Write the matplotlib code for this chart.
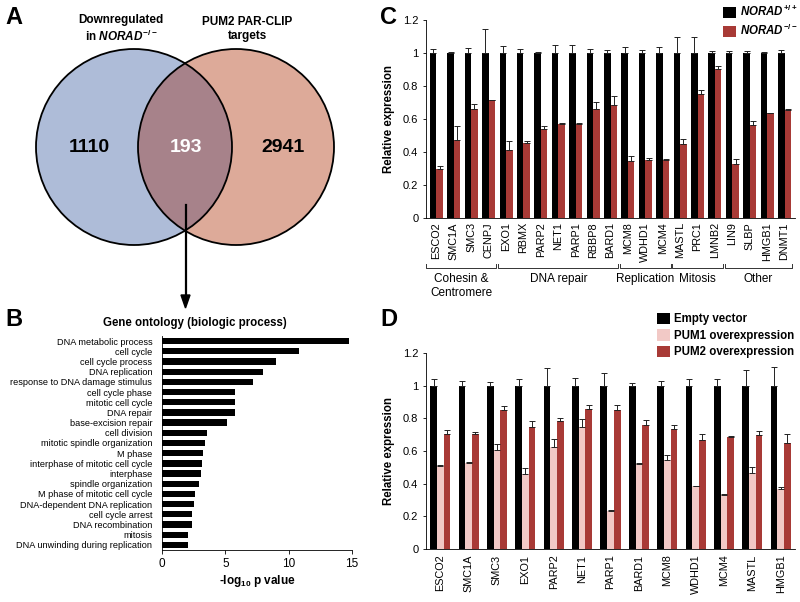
import matplotlib
matplotlib.use("Agg")
import matplotlib.pyplot as plt
import numpy as np
from matplotlib.patches import Circle, Polygon
from matplotlib.lines import Line2D
import matplotlib.transforms as mtransforms

plt.rcParams['font.family'] = ['Liberation Sans', 'DejaVu Sans']
plt.rcParams['mathtext.fontset'] = 'custom'
plt.rcParams['mathtext.rm'] = 'Liberation Sans:bold'
plt.rcParams['mathtext.bf'] = 'Liberation Sans:bold'
plt.rcParams['mathtext.it'] = 'Liberation Sans:bold:italic'

# ---------------- data ----------------
venn_left_only = 1110
venn_overlap = 193
venn_right_only = 2941
venn_left_label = "Downregulated\nin $\\mathit{NORAD}^{-/-}$"
venn_right_label = "PUM2 PAR-CLIP\ntargets"

go_terms = ["DNA metabolic process", "cell cycle", "cell cycle process", "DNA replication",
            "response to DNA damage stimulus", "cell cycle phase", "mitotic cell cycle",
            "DNA repair", "base-excision repair", "cell division", "mitotic spindle organization",
            "M phase", "interphase of mitotic cell cycle", "interphase", "spindle organization",
            "M phase of mitotic cell cycle", "DNA-dependent DNA replication", "cell cycle arrest",
            "DNA recombination", "mitosis", "DNA unwinding during replication"]
go_values = [14.8, 10.8, 9.0, 7.95, 7.15, 5.8, 5.78, 5.75, 5.1, 3.55, 3.37, 3.2, 3.15,
             3.1, 2.95, 2.63, 2.5, 2.37, 2.33, 2.07, 2.05]

genes_c = ['ESCO2', 'SMC1A', 'SMC3', 'CENPJ', 'EXO1', 'RBMX', 'PARP2', 'NET1', 'PARP1',
           'RBBP8', 'BARD1', 'MCM8', 'WDHD1', 'MCM4', 'MASTL', 'PRC1', 'LMNB2', 'LIN9',
           'SLBP', 'HMGB1', 'DNMT1']
wt_c = [1.0] * 21
wt_err_c = [0.022, 0.006, 0.03, 0.145, 0.044, 0.022, 0.006, 0.05, 0.05, 0.024, 0.02,
            0.037, 0.016, 0.039, 0.095, 0.099, 0.012, 0.012, 0.012, 0.008, 0.018]
ko_c = [0.299, 0.475, 0.663, 0.718, 0.41, 0.455, 0.542, 0.568, 0.572, 0.663, 0.682,
        0.345, 0.349, 0.353, 0.447, 0.754, 0.902, 0.325, 0.566, 0.637, 0.653]
ko_err_c = [0.014, 0.083, 0.025, 0.0, 0.057, 0.012, 0.014, 0.006, 0.003, 0.037, 0.056,
            0.033, 0.015, 0.006, 0.032, 0.021, 0.02, 0.033, 0.023, 0.002, 0.01]
groups_c = [("Cohesin &\nCentromere", 0, 3), ("DNA repair", 4, 10), ("Replication", 11, 13),
            ("Mitosis", 14, 16), ("Other", 17, 20)]

genes_d = ['ESCO2', 'SMC1A', 'SMC3', 'EXO1', 'PARP2', 'NET1', 'PARP1', 'BARD1', 'MCM8',
           'WDHD1', 'MCM4', 'MASTL', 'HMGB1']
ev_d = [1.0] * 13
ev_err_d = [0.042, 0.03, 0.024, 0.038, 0.107, 0.045, 0.076, 0.017, 0.03, 0.042, 0.04, 0.096, 0.113]
pum1_d = [0.511, 0.527, 0.604, 0.458, 0.625, 0.745, 0.234, 0.522, 0.542, 0.384, 0.333, 0.465, 0.365]
pum1_err_d = [0.003, 0.003, 0.037, 0.035, 0.051, 0.051, 0.004, 0.005, 0.031, 0.002, 0.002, 0.038, 0.015]
pum2_d = [0.707, 0.703, 0.848, 0.745, 0.782, 0.858, 0.854, 0.759, 0.734, 0.668, 0.687, 0.699, 0.651]
pum2_err_d = [0.021, 0.015, 0.025, 0.041, 0.021, 0.025, 0.029, 0.031, 0.023, 0.035, 0.006, 0.025, 0.056]

BLACK = '#000000'
RED = '#A83A36'
PINK = '#F2C9C6'
BLUE = '#AEBCD8'
SALMON = '#DDAA99'
OVER = '#A7828A'

fig = plt.figure(figsize=(8.0, 6.02), dpi=100)
W, H = 800.0, 602.0

def fx(px):
    return px / W

def fy(py):
    return 1 - py / H

# ---------------- panel A: Venn ----------------
axA = fig.add_axes([0, 0.5, 0.5, 0.5])
axA.set_xlim(0, 400)
axA.set_ylim(301, 0)
axA.axis('off')
r = 98
cL = (134, 147)
cR = (236, 147)
axA.add_patch(Circle(cL, r, facecolor=BLUE, edgecolor='none'))
axA.add_patch(Circle(cR, r, facecolor=SALMON, edgecolor='none'))
clipc = Circle(cL, r, transform=axA.transData)
ov = Circle(cR, r, facecolor=OVER, edgecolor='none')
axA.add_patch(ov)
ov.set_clip_path(clipc)
axA.add_patch(Circle(cL, r, facecolor='none', edgecolor='black', lw=1.3))
axA.add_patch(Circle(cR, r, facecolor='none', edgecolor='black', lw=1.3))
axA.text(89, 148, str(venn_left_only), ha='center', va='center', fontsize=14, fontweight='bold')
axA.text(186, 148, str(venn_overlap), ha='center', va='center', fontsize=14, fontweight='bold', color='white')
axA.text(283, 148, str(venn_right_only), ha='center', va='center', fontsize=14, fontweight='bold')
axA.text(121, 29, venn_left_label, ha='center', va='center', fontsize=8.5, fontweight='bold', linespacing=1.15)
axA.text(247, 29, venn_right_label, ha='center', va='center', fontsize=8.5, fontweight='bold', linespacing=1.15)

# arrow
fig.add_artist(Line2D([fx(185.5), fx(185.5)], [fy(205), fy(296)], color='black', lw=1.6))
fig.add_artist(Polygon([[fx(181), fy(295)], [fx(190), fy(295)], [fx(185.5), fy(308)]],
                       closed=True, transform=fig.transFigure, color='black'))

# panel letters
for lab, x, y in [("A", 5, 18), ("B", 5, 320), ("C", 380, 18), ("D", 380, 320)]:
    fig.text(fx(x), fy(y), lab, fontsize=17, fontweight='bold', ha='left', va='center')

# ---------------- panel B: GO ----------------
axB = fig.add_axes([fx(162), fy(550), fx(352) - fx(162), fy(336) - fy(550)])
yB = np.arange(len(go_terms))
axB.barh(yB, go_values, height=0.62, color='black')
axB.set_ylim(len(go_terms) - 0.5, -0.5)
axB.set_xlim(0, 15)
axB.set_yticks(yB)
axB.set_yticklabels(go_terms, fontsize=6.6)
axB.tick_params(axis='y', length=0, pad=7)
axB.set_xticks([0, 5, 10, 15])
axB.tick_params(axis='x', labelsize=8.5, length=3, width=0.6, pad=3)
for s in ['top', 'right']:
    axB.spines[s].set_visible(False)
for s in ['left', 'bottom']:
    axB.spines[s].set_linewidth(0.6)
axB.set_xlabel("-log$_{10}$ p value", fontsize=8.5, fontweight='bold', labelpad=2)
fig.text(fx(195), fy(323), "Gene ontology (biologic process)", fontsize=8.3, fontweight='bold',
         ha='center', va='center')

# ---------------- panel C ----------------
axC = fig.add_axes([fx(426), fy(218), fx(795) - fx(426), fy(20) - fy(218)])
xc = np.arange(len(genes_c))
bw = 0.37
axC.bar(xc - bw / 2, wt_c, width=bw, color=BLACK, label="$\\mathit{NORAD}^{+/+}$")
axC.bar(xc + bw / 2, ko_c, width=bw, color=RED, label="$\\mathit{NORAD}^{-/-}$")
axC.errorbar(xc - bw / 2, wt_c, yerr=[np.zeros(len(xc)), wt_err_c], fmt='none', ecolor='#222222',
             elinewidth=0.7, capsize=2.2, capthick=0.7)
axC.errorbar(xc + bw / 2, ko_c, yerr=[np.zeros(len(xc)), ko_err_c], fmt='none', ecolor='#222222',
             elinewidth=0.7, capsize=2.2, capthick=0.7)
axC.set_xlim(-0.6, len(genes_c) - 0.4)
axC.set_ylim(0, 1.2)
axC.set_yticks([0, 0.2, 0.4, 0.6, 0.8, 1.0, 1.2])
axC.set_yticklabels(['0', '0.2', '0.4', '0.6', '0.8', '1', '1.2'])
axC.tick_params(axis='y', labelsize=8, length=2.5, width=0.6, pad=3)
axC.set_xticks(xc)
axC.set_xticklabels(genes_c, rotation=90, fontsize=7.8)
axC.tick_params(axis='x', length=0, pad=3)
for s in ['top', 'right']:
    axC.spines[s].set_visible(False)
for s in ['left', 'bottom']:
    axC.spines[s].set_linewidth(0.6)
axC.set_ylabel("Relative expression", fontsize=8.3, fontweight='bold', labelpad=6)
trC = mtransforms.blended_transform_factory(axC.transData, axC.transAxes)
yb = -(268 - 218) / 198.0
tick = 4 / 198.0
for name, a, b in groups_c:
    x0 = a - 0.45 if a > 0 else a - 0.6
    x1 = b + 0.45
    axC.plot([x0, x0, x1, x1], [yb + tick, yb, yb, yb + tick], transform=trC, color='#333333',
             lw=0.7, clip_on=False)
    axC.text((x0 + x1) / 2, yb - 0.025, name, transform=trC, ha='center', va='top', fontsize=8.5,
             linespacing=1.2)
fig.legend(*axC.get_legend_handles_labels(), loc='upper left',
           bbox_to_anchor=(fx(723), fy(4)), frameon=False, fontsize=8.3, handlelength=1.1,
           handleheight=1.1, handletextpad=0.35, labelspacing=0.35, borderpad=0, borderaxespad=0)

# ---------------- panel D ----------------
axD = fig.add_axes([fx(426), fy(549), fx(795) - fx(426), fy(353) - fy(549)])
xd = np.arange(len(genes_d))
bd = 0.235
axD.bar(xd - bd, ev_d, width=bd, color=BLACK, label="Empty vector")
axD.bar(xd, pum1_d, width=bd, color=PINK, label="PUM1 overexpression")
axD.bar(xd + bd, pum2_d, width=bd, color=RED, label="PUM2 overexpression")
for off, v, e in [(-bd, ev_d, ev_err_d), (0, pum1_d, pum1_err_d), (bd, pum2_d, pum2_err_d)]:
    axD.errorbar(xd + off, v, yerr=[np.zeros(len(xd)), e], fmt='none', ecolor='#222222',
                 elinewidth=0.7, capsize=2.2, capthick=0.7)
axD.set_xlim(-0.5, len(genes_d) - 0.5)
axD.set_ylim(0, 1.2)
axD.set_yticks([0, 0.2, 0.4, 0.6, 0.8, 1.0, 1.2])
axD.set_yticklabels(['0', '0.2', '0.4', '0.6', '0.8', '1', '1.2'])
axD.tick_params(axis='y', labelsize=8, length=2.5, width=0.6, pad=3)
axD.set_xticks(xd)
axD.set_xticklabels(genes_d, rotation=90, fontsize=7.8)
axD.tick_params(axis='x', length=0, pad=4)
for s in ['top', 'right']:
    axD.spines[s].set_visible(False)
for s in ['left', 'bottom']:
    axD.spines[s].set_linewidth(0.6)
axD.set_ylabel("Relative expression", fontsize=8.3, fontweight='bold', labelpad=6)
fig.legend(*axD.get_legend_handles_labels(), loc='upper left',
           bbox_to_anchor=(fx(657), fy(313)), frameon=False, handlelength=1.1,
           handleheight=1.1, handletextpad=0.35, labelspacing=0.35, borderpad=0, borderaxespad=0,
           prop={'weight': 'bold', 'size': 8.3})

fig.savefig("out.png", dpi=100)
